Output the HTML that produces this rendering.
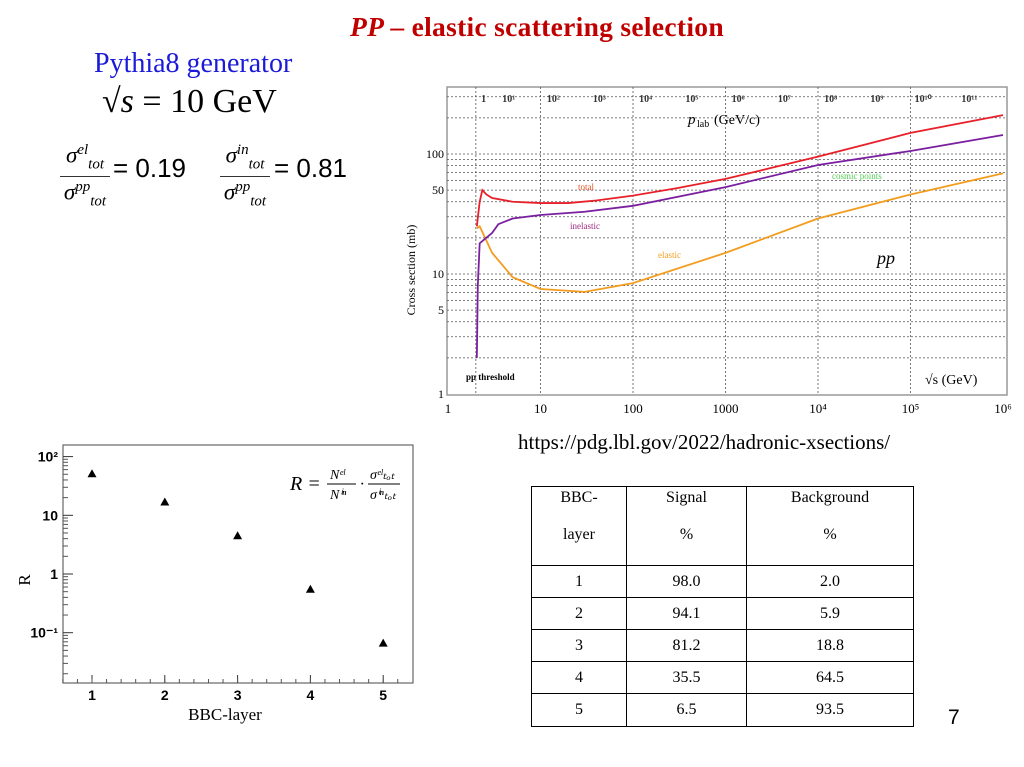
<!DOCTYPE html>
<html><head><meta charset="utf-8"><style>
body{margin:0;width:1024px;height:767px;background:#fff;position:relative;overflow:hidden;font-family:"Liberation Serif",serif}
.a{position:absolute;white-space:nowrap}
.frac{position:absolute;text-align:center;font-family:"Liberation Serif",serif;font-style:italic;font-size:23px;line-height:20px}
.frac .n{border-bottom:1.5px solid #333;padding:0 2px 2px}
sub,sup{font-size:15px}
table{border-collapse:collapse;font-size:16px;font-family:"Liberation Serif",serif}
td{border:1.5px solid #000;text-align:center;padding:0}
.h{vertical-align:top;line-height:37px}
.h div{margin-top:-8px;margin-bottom:8px}
</style></head><body>
<div class="a" style="left:350px;top:11px;font-size:27.5px;font-weight:bold;font-style:italic;color:#c00000;letter-spacing:0.3px">PP <span style="font-style:normal">– elastic scattering selection</span></div>
<div class="a" style="left:94px;top:48px;font-size:28px;color:#1a1ad8">Pythia8 generator</div>
<div class="a" style="left:102px;top:83px;font-size:34px">√<i>s</i> = 10 GeV</div>
<div class="frac" style="left:60px;top:140px;width:50px"><div class="n">σ<sup>el</sup><sub>tot</sub></div><div>σ<sup>pp</sup><sub>tot</sub></div></div>
<div class="a" style="left:113px;top:153px;font-size:26px;font-family:'Liberation Sans',sans-serif">= 0.19</div>
<div class="frac" style="left:220px;top:140px;width:50px"><div class="n">σ<sup>in</sup><sub>tot</sub></div><div>σ<sup>pp</sup><sub>tot</sub></div></div>
<div class="a" style="left:274px;top:153px;font-size:26px;font-family:'Liberation Sans',sans-serif">= 0.81</div>

<svg id="xs" style="position:absolute;left:400px;top:80px" width="624" height="340"></svg>
<svg id="rc" style="position:absolute;left:0;top:430px" width="430" height="300"></svg>

<div class="a" style="left:518px;top:430px;font-size:21px">https://pdg.lbl.gov/2022/hadronic-xsections/</div>

<table style="position:absolute;left:531px;top:486px;width:383px">
<tr style="height:79px"><td class="h" style="width:94px"><div>BBC-<br>layer</div></td><td class="h" style="width:119px"><div>Signal<br>%</div></td><td class="h"><div>Background<br>%</div></td></tr>
<tr style="height:32px"><td>1</td><td>98.0</td><td>2.0</td></tr>
<tr style="height:32px"><td>2</td><td>94.1</td><td>5.9</td></tr>
<tr style="height:32px"><td>3</td><td>81.2</td><td>18.8</td></tr>
<tr style="height:32px"><td>4</td><td>35.5</td><td>64.5</td></tr>
<tr style="height:33px"><td>5</td><td>6.5</td><td>93.5</td></tr>
</table>
<div class="a" style="left:948px;top:706px;font-size:21px;font-family:'Liberation Sans',sans-serif">7</div>

<script>
// ---- cross-section chart data ----
const totalS=[2.05,2.2,2.35,2.6,3,5,10,20,40,100,300,1000,3000,1e4,4e4,1e5,1e6];
const totalMb=[25,40,50,46,43,40,39,39,41,45,52,62,76,95,125,150,211];
const inelS=[2.05,2.1,2.2,3,3.5,5,10,30,100,1000,1e4,1e5,1e6];
const inelMb=[2,8,18,22,26,29,31,33,37,53,81,106,144];
const elS=[2.05,2.2,3,5,10,30,100,1000,1e4,1e5,1e6];
const elMb=[24,25,15,9.4,7.5,7.1,8.4,15,29,46,69];
const xTicks=["1","10","100","1000","10⁴","10⁵","10⁶"];
const yTicks=[1,5,10,50,100];
const plabLabels=["1","10¹","10²","10³","10⁴","10⁵","10⁶","10⁷","10⁸","10⁹","10¹⁰","10¹¹"];
const plabLogP=[0.3,1,2,3,4,5,6,7,8,9,10,11];
// ---- R chart data ----
const layers=[1,2,3,4,5];
const rVals=[50,16.5,4.4,0.54,0.065];
const rTicks=["10²","10","1","10⁻¹"];

const NS="http://www.w3.org/2000/svg";
function mk(svg,t,at,txt){const e=document.createElementNS(NS,t);for(const k in at)e.setAttribute(k,at[k]);if(txt!==undefined)e.textContent=txt;svg.appendChild(e);return e;}

(function(){
const s=document.getElementById('xs');
const X=v=>48+92.5*Math.log10(v), Y=v=>314-120*Math.log10(v);
mk(s,'rect',{x:47,y:7,width:560,height:308,fill:'#fff',stroke:'#999','stroke-width':1.5});
for(let d=0;d<3;d++)for(let m=1;m<10;m++){const v=m*Math.pow(10,d);if(v<=1||v>330)continue;const g=mk(s,'line',{x1:47,x2:607,y1:Y(v),y2:Y(v),stroke:'#555','stroke-width':0.8,'stroke-dasharray':'2,2'});}
[2,10,100,1000,1e4,1e5].forEach(v=>{const g=mk(s,'line',{x1:X(v),x2:X(v),y1:7,y2:315,stroke:'#555','stroke-width':0.8,'stroke-dasharray':'2,2'});});
xTicks.forEach((t,i)=>{const e=mk(s,'text',{x:X(Math.pow(10,i)),y:333,'font-size':13,'text-anchor':'middle','font-family':'Liberation Serif'},t);});
yTicks.forEach(v=>{const e=mk(s,'text',{x:44,y:Y(v)+4,'font-size':12,'text-anchor':'end','font-family':'Liberation Serif'},v);});
plabLabels.forEach((t,i)=>{const e=mk(s,'text',{x:X(Math.sqrt(2*0.938*0.938+2*0.938*Math.sqrt(Math.pow(10,2*plabLogP[i])+0.88))),y:22,'font-size':10,'text-anchor':'middle','font-family':'Liberation Serif','font-weight':'bold',fill:'#333'},t);});
let e=mk(s,'text',{x:15,y:190,'font-size':12,transform:'rotate(-90 15 190)','text-anchor':'middle','font-family':'Liberation Serif'},'Cross section (mb)');
e=mk(s,'text',{x:288,y:44,'font-size':15,'font-family':'Liberation Serif','font-style':'italic'},'p');
mk(s,'text',{x:297,y:47,'font-size':10,'font-family':'Liberation Serif'},'lab');
mk(s,'text',{x:314,y:44,'font-size':14,'font-family':'Liberation Serif'},'(GeV/c)');
e=mk(s,'text',{x:525,y:304,'font-size':14,'font-family':'Liberation Serif'},'√s (GeV)');
e=mk(s,'text',{x:477,y:184,'font-size':18,'font-style':'italic','font-family':'Liberation Serif'},'pp');
e=mk(s,'text',{x:66,y:300,'font-size':9,'font-weight':'bold','font-family':'Liberation Serif'},'pp threshold');
function line(xs,ys,c,n){const p=mk(s,'polyline',{points:xs.map((x,i)=>X(x)+','+Y(ys[i])).join(' '),fill:'none',stroke:c,'stroke-width':1.8});}
line(elS,elMb,'#f39c1e','elastic-curve');
line(inelS,inelMb,'#7a1fa0','inelastic-curve');
line(totalS,totalMb,'#e8202a','total-curve');
[['total',178,110,'#e05020'],['inelastic',170,149,'#a02a80'],['elastic',258,178,'#f39c1e'],['cosmic points',432,99,'#55cc55']].forEach(a=>{const t=mk(s,'text',{x:a[1],y:a[2],'font-size':9,fill:a[3],'font-family':'Liberation Serif'},a[0]);});
})();

(function(){
const s=document.getElementById('rc');
const X=v=>92+72.8*(v-1), Y=v=>144-58.7*Math.log10(v);
mk(s,'rect',{x:63,y:15,width:350,height:238,fill:'none',stroke:'#666','stroke-width':1.2});
rTicks.forEach((t,i)=>{const e=mk(s,'text',{x:58,y:Y(Math.pow(10,2-i))+5,'font-size':14,'text-anchor':'end','font-family':'Liberation Sans','font-weight':'bold'},t);mk(s,'line',{x1:63,x2:73,y1:Y(Math.pow(10,2-i)),y2:Y(Math.pow(10,2-i)),stroke:'#333'});});
for(let d=-2;d<2;d++)for(let m=2;m<10;m++){const v=m*Math.pow(10,d);const y=Y(v);if(y<15||y>253)continue;mk(s,'line',{x1:63,x2:68,y1:y,y2:y,stroke:'#555'});}
layers.forEach(l=>{const e=mk(s,'text',{x:X(l),y:270,'font-size':14,'text-anchor':'middle','font-family':'Liberation Sans','font-weight':'bold'},l);mk(s,'line',{x1:X(l),x2:X(l),y1:253,y2:245,stroke:'#333'});});
for(let v=0.6;v<5.4;v+=0.2){mk(s,'line',{x1:X(v),x2:X(v),y1:253,y2:249,stroke:'#555'});}
layers.forEach((l,i)=>{const x=X(l),y=Y(rVals[i]);const p=mk(s,'polygon',{points:`${x},${y-5} ${x-4.5},${y+3} ${x+4.5},${y+3}`,fill:'#000'});});
let e=mk(s,'text',{x:225,y:290,'font-size':17,'text-anchor':'middle','font-family':'Liberation Serif'},'BBC-layer');
e=mk(s,'text',{x:30,y:150,'font-size':17,transform:'rotate(-90 30 150)','text-anchor':'middle','font-family':'Liberation Serif'},'R');
const g=mk(s,'g',{'font-family':'Liberation Serif','font-style':'italic'});
mk(g,'text',{x:290,y:60,'font-size':20},'R =');
mk(g,'text',{x:330,y:49,'font-size':14},'Nᵉˡ');mk(g,'line',{x1:327,x2:356,y1:54,y2:54,stroke:'#000'});mk(g,'text',{x:330,y:69,'font-size':14},'Nⁱⁿ');
mk(g,'text',{x:360,y:59,'font-size':16},'·');
mk(g,'text',{x:370,y:49,'font-size':14},'σᵉˡₜₒₜ');mk(g,'line',{x1:368,x2:400,y1:54,y2:54,stroke:'#000'});mk(g,'text',{x:370,y:69,'font-size':14},'σⁱⁿₜₒₜ');
})();
</script>
</body></html>
